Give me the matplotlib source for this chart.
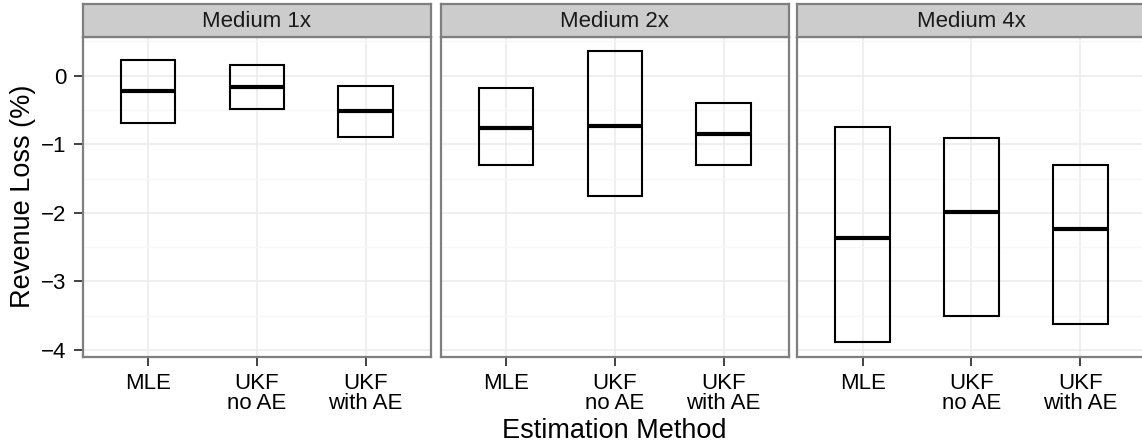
import matplotlib
matplotlib.use("Agg")
import matplotlib.pyplot as plt
from matplotlib.ticker import MultipleLocator

plt.rcParams['font.family'] = ['Liberation Sans', 'DejaVu Sans']

methods = ["MLE", "UKF\nno AE", "UKF\nwith AE"]
panels = ["Medium 1x", "Medium 2x", "Medium 4x"]
# per panel: lower, middle, upper for each method
lower = [[-0.69, -0.48, -0.90],
         [-1.31, -1.76, -1.31],
         [-3.885, -3.51, -3.62]]
middle = [[-0.23, -0.16, -0.51],
          [-0.76, -0.74, -0.85],
          [-2.37, -1.99, -2.24]]
upper = [[0.23, 0.155, -0.15],
         [-0.18, 0.355, -0.40],
         [-0.755, -0.91, -1.30]]
yticks = [0, -1, -2, -3, -4]

W, H = 1142, 448
fig = plt.figure(figsize=(W / 100, H / 100), dpi=100)

panel_left = [82.7, 440.7, 797.3]
panel_w = 348.3
panel_top = 36.7
panel_bottom = 356.7
strip_top = 4.0

border = "#7f7f7f"
ymin_all = min(min(r) for r in lower)
ymax_all = max(max(r) for r in upper)
span = ymax_all - ymin_all
ylim = (ymin_all - 0.05 * span, ymax_all + 0.05 * span)

for p in range(3):
    x0 = panel_left[p]
    ax = fig.add_axes([x0 / W, 1 - panel_bottom / H, panel_w / W, (panel_bottom - panel_top) / H])
    ax.set_xlim(0.4, 3.6)
    ax.set_ylim(*ylim)
    xs = [1, 2, 3]
    ax.set_xticks(xs)
    ax.set_xticklabels(methods, fontsize=16, linespacing=0.95)
    ax.set_yticks(yticks)
    ax.yaxis.set_minor_locator(MultipleLocator(0.5))
    ax.grid(True, which='major', color='#ebebeb', linewidth=1.1, zorder=0)
    ax.grid(True, which='minor', axis='y', color='#f7f7f7', linewidth=0.9, zorder=0)
    ax.tick_params(axis='both', which='major', length=6.5, width=1.3, color='#333333',
                   labelsize=16, pad=5, labelcolor='black')
    ax.tick_params(axis='y', which='minor', length=0)
    if p > 0:
        ax.tick_params(axis='y', which='major', length=0, labelleft=False)
    for s in ax.spines.values():
        s.set_color(border)
        s.set_linewidth(1.6)
    ax.set_axisbelow(True)
    hw = 0.25
    for i, x in enumerate(xs):
        lo, mid, up = lower[p][i], middle[p][i], upper[p][i]
        ax.plot([x - hw, x + hw, x + hw, x - hw, x - hw], [lo, lo, up, up, lo],
                color='black', linewidth=1.5, solid_joinstyle='miter', zorder=3)
        ax.plot([x - hw, x + hw], [mid, mid], color='black', linewidth=3.0,
                solid_capstyle='butt', zorder=3)

    sax = fig.add_axes([x0 / W, 1 - panel_top / H, panel_w / W, (panel_top - strip_top) / H])
    sax.set_facecolor('#cccccc')
    sax.set_xticks([])
    sax.set_yticks([])
    for s in sax.spines.values():
        s.set_color(border)
        s.set_linewidth(1.6)
    sax.text(0.5, 0.47, panels[p], transform=sax.transAxes, ha='center', va='center',
             fontsize=16, color='#1a1a1a')

fig.text(23 / W, 1 - 196 / H, "Revenue Loss (%)", rotation=90, ha='center', va='center',
         fontsize=19.5)
fig.text(614 / W, 1 - 431 / H, "Estimation Method", ha='center', va='center', fontsize=19.5)

fig.savefig("out.png", dpi=100)
